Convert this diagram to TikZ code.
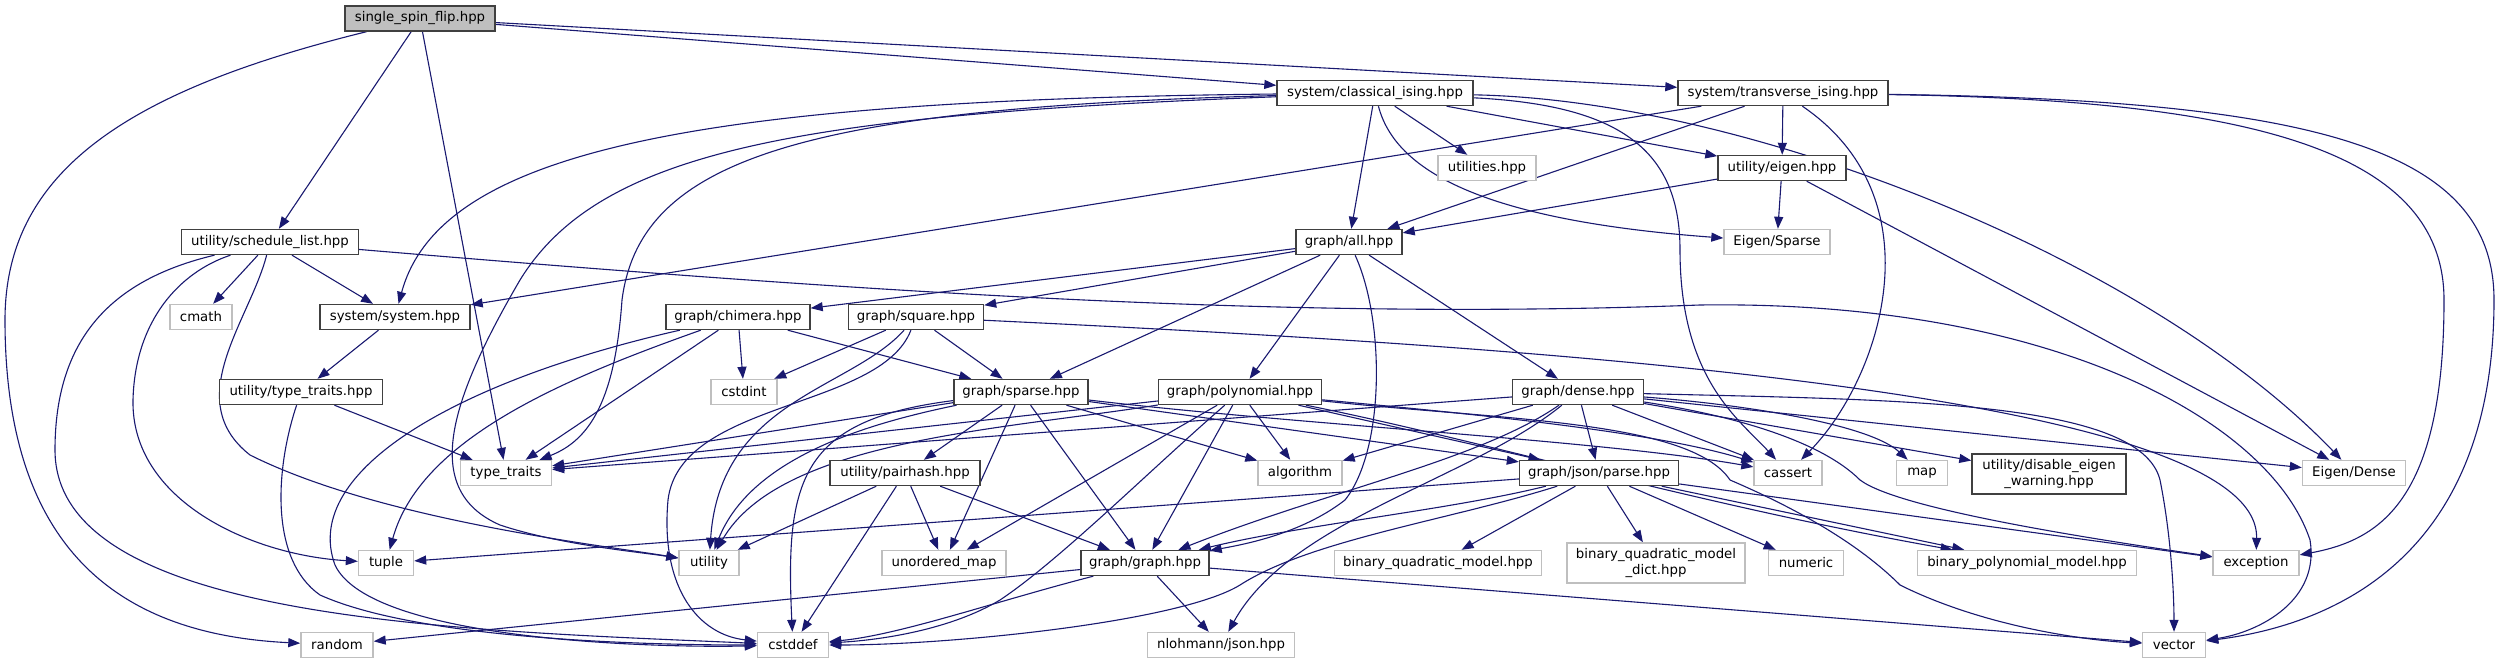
\documentclass[tikz,border=0pt]{standalone}
\usepackage{fontspec}
\setmainfont{DejaVu Sans}
\usetikzlibrary{arrows.meta}
\definecolor{edgec}{HTML}{191970}
\definecolor{docb}{HTML}{404040}
\definecolor{extb}{HTML}{BFBFBF}
\definecolor{rootf}{HTML}{BFBFBF}
\newcommand{\nodefont}{\fontsize{13.3bp}{15.5bp}\selectfont}
\begin{document}
\begin{tikzpicture}[x=1bp,y=-1bp,
  doc/.style={draw=docb, fill=white, line width=1.4bp, minimum height=25bp, inner sep=0pt, font=\nodefont, align=center},
  ext/.style={doc, draw=extb},
  rootnode/.style={doc, fill=rootf},
  e/.style={draw=edgec, line width=1.1bp, -{Triangle[length=12bp,width=9bp]}}
]
\fill[white] (0,0) rectangle (2500,664);
\useasboundingbox (0,0) rectangle (2500,664);

% ---------- nodes (placed first to get names; redrawn on top at the end) ----------
\node[rootnode, minimum width=150bp] (S) at (420,18.5) {single\_spin\_flip.hpp};
\node[doc, minimum width=196bp] (C) at (1375,93) {system/classical\_ising.hpp};
\node[doc, minimum width=210bp] (T) at (1783,93) {system/transverse\_ising.hpp};
\node[ext, minimum width=98bp] (UT) at (1487,168) {utilities.hpp};
\node[doc, minimum width=128bp] (UE) at (1782,168) {utility/eigen.hpp};
\node[doc, minimum width=177bp] (SL) at (270,242) {utility/schedule\_list.hpp};
\node[doc, minimum width=106bp] (GA) at (1349,242) {graph/all.hpp};
\node[ext, minimum width=106bp] (ES) at (1777,242) {Eigen/Sparse};
\node[ext, minimum width=62bp] (CM) at (201,317) {cmath};
\node[doc, minimum width=150bp] (SS) at (395,317) {system/system.hpp};
\node[doc, minimum width=144bp] (CH) at (738,317) {graph/chimera.hpp};
\node[doc, minimum width=135bp] (SQ) at (916,317) {graph/square.hpp};
\node[doc, minimum width=163bp] (UTT) at (301,392) {utility/type\_traits.hpp};
\node[ext, minimum width=66bp] (CI) at (744,392) {cstdint};
\node[doc, minimum width=134bp] (SP) at (1021,392) {graph/sparse.hpp};
\node[doc, minimum width=163bp] (PO) at (1240,392) {graph/polynomial.hpp};
\node[doc, minimum width=131bp] (DE) at (1578,392) {graph/dense.hpp};
\node[ext, minimum width=91bp] (TT) at (506,473) {type\_traits};
\node[doc, minimum width=150bp] (PH) at (905,473) {utility/pairhash.hpp};
\node[ext, minimum width=84bp] (AL) at (1300,473) {algorithm};
\node[doc, minimum width=159bp] (PA) at (1599,473) {graph/json/parse.hpp};
\node[ext, minimum width=68bp] (CA) at (1788,473) {cassert};
\node[ext, minimum width=51bp] (MA) at (1922,473) {map};
\node[doc, minimum width=154bp, minimum height=40bp] (DW) at (2049,474) {utility/disable\_eigen\\\_warning.hpp};
\node[ext, minimum width=103bp] (ED) at (2354,473) {Eigen/Dense};
\node[ext, minimum width=55bp] (TU) at (386,563) {tuple};
\node[ext, minimum width=60bp] (UY) at (709,563) {utility};
\node[ext, minimum width=124bp] (UM) at (944,563) {unordered\_map};
\node[doc, minimum width=128bp] (GG) at (1145,563) {graph/graph.hpp};
\node[ext, minimum width=207bp] (BQ) at (1438,563) {binary\_quadratic\_model.hpp};
\node[ext, minimum width=178bp, minimum height=40bp] (BD) at (1656,563) {binary\_quadratic\_model\\\_dict.hpp};
\node[ext, minimum width=75bp] (NU) at (1806,563) {numeric};
\node[ext, minimum width=219bp] (BP) at (2027,563) {binary\_polynomial\_model.hpp};
\node[ext, minimum width=86bp] (EX) at (2256,563) {exception};
\node[ext, minimum width=72bp] (RA) at (337,645) {random};
\node[ext, minimum width=71bp] (CD) at (793,645) {cstddef};
\node[ext, minimum width=147bp] (NJ) at (1221,645) {nlohmann/json.hpp};
\node[ext, minimum width=63bp] (VE) at (2174,645) {vector};

% ---------- edges ----------
% single_spin_flip
\draw[e] (S) .. controls (130,90) and (5,170) .. (5,320) .. controls (5,560) and (130,635) .. (RA);
\draw[e] (S) -- (SL);
\draw[e] (S) -- (TT);
\draw[e] (S) -- (C);
\draw[e] (S) -- (T);
% classical_ising
\draw[e] (C) .. controls (700,100) and (440,150) .. (SS);
\draw[e] (C) .. controls (800,108) and (640,160) .. (622,300) .. controls (615,400) and (590,440) .. (TT);
\draw[e] (C) .. controls (800,115) and (600,150) .. (520,280) .. controls (450,400) and (420,490) .. (500,525) .. controls (560,545) and (640,552) .. (UY);
\draw[e] (C) -- (UT);
\draw[e] (C) -- (GA);
\draw[e] (C) -- (UE);
\draw[e] (C) .. controls (1395,170) and (1480,220) .. (ES);
\draw[e] (C) .. controls (1620,105) and (1680,150) .. (1680,250) .. controls (1680,380) and (1740,420) .. (CA);
\draw[e] (C) .. controls (1750,100) and (2150,260) .. (ED);
% transverse_ising
\draw[e] (T) -- (SS);
\draw[e] (T) -- (GA);
\draw[e] (T) -- (UE);
\draw[e] (T) .. controls (1940,200) and (1880,380) .. (CA);
\draw[e] (T) .. controls (2250,100) and (2444,150) .. (2444,300) .. controls (2444,500) and (2380,540) .. (EX);
\draw[e] (T) .. controls (2320,100) and (2494,150) .. (2494,300) .. controls (2494,560) and (2330,625) .. (VE);
% utility/eigen
\draw[e] (UE) -- (GA);
\draw[e] (UE) -- (ES);
\draw[e] (UE) -- (ED);
% schedule_list
\draw[e] (SL) -- (CM);
\draw[e] (SL) -- (SS);
\draw[e] (SL) .. controls (180,272) and (135,320) .. (133,400) .. controls (131,500) and (250,555) .. (TU);
\draw[e] (SL) .. controls (250,320) and (180,400) .. (250,455) .. controls (380,520) and (600,545) .. (UY);
\draw[e] (SL) .. controls (110,280) and (55,340) .. (55,450) .. controls (55,620) and (450,630) .. (CD);
\draw[e] (SL) .. controls (900,295) and (1300,320) .. (1700,305) .. controls (2050,300) and (2270,420) .. (2310,540) .. controls (2320,600) and (2260,632) .. (VE);
% system/system
\draw[e] (SS) -- (UTT);
% utility/type_traits
\draw[e] (UTT) -- (TT);
\draw[e] (UTT) .. controls (275,470) and (270,560) .. (320,595) .. controls (420,640) and (650,645) .. (CD);
% graph/all
\draw[e] (GA) -- (CH);
\draw[e] (GA) -- (SQ);
\draw[e] (GA) -- (SP);
\draw[e] (GA) -- (PO);
\draw[e] (GA) -- (DE);
\draw[e] (GA) .. controls (1385,320) and (1385,450) .. (1345,500) .. controls (1300,535) and (1240,545) .. (GG);
% chimera
\draw[e] (CH) -- (CI);
\draw[e] (CH) -- (SP);
\draw[e] (CH) -- (TT);
\draw[e] (CH) .. controls (560,380) and (420,440) .. (TU);
\draw[e] (CH) .. controls (460,380) and (300,470) .. (335,565) .. controls (370,640) and (650,648) .. (CD);
% square
\draw[e] (SQ) -- (CI);
\draw[e] (SQ) -- (SP);
\draw[e] (SQ) .. controls (850,390) and (720,400) .. (UY);
\draw[e] (SQ) .. controls (880,410) and (680,400) .. (668,500) .. controls (660,590) and (700,635) .. (CD);
\draw[e] (SQ) .. controls (1500,345) and (2260,390) .. (EX);
% sparse
\draw[e] (SP) -- (PH);
\draw[e] (SP) -- (UM);
\draw[e] (SP) -- (GG);
\draw[e] (SP) -- (AL);
\draw[e] (SP) -- (PA);
\draw[e] (SP) -- (TT);
\draw[e] (SP) .. controls (860,425) and (750,460) .. (UY);
\draw[e] (SP) .. controls (800,420) and (785,480) .. (CD);
\draw[e] (SP) .. controls (1300,425) and (1600,440) .. (CA);
% polynomial
\draw[e] (PO) -- (TT);
\draw[e] (PO) .. controls (1000,430) and (780,440) .. (UY);
\draw[e] (PO) -- (UM);
\draw[e] (PO) .. controls (1150,470) and (1060,560) .. (1000,600) .. controls (950,630) and (880,640) .. (CD);
\draw[e] (PO) -- (GG);
\draw[e] (PO) -- (AL);
\draw[e] (PO) -- (PA);
\draw[e] (PO) .. controls (1450,412) and (1650,430) .. (CA);
\draw[e] (PO) .. controls (1480,440) and (1700,505) .. (BP);
\draw[e] (PO) .. controls (1500,420) and (1690,420) .. (1730,480) .. controls (1800,510) and (1860,545) .. (1900,585) .. controls (1980,625) and (2080,640) .. (VE);
% dense
\draw[e] (DE) -- (TT);
\draw[e] (DE) -- (AL);
\draw[e] (DE) -- (PA);
\draw[e] (DE) .. controls (1480,460) and (1330,490) .. (GG);
\draw[e] (DE) .. controls (1470,480) and (1290,520) .. (NJ);
\draw[e] (DE) -- (CA);
\draw[e] (DE) .. controls (1750,405) and (1870,425) .. (MA);
\draw[e] (DE) -- (DW);
\draw[e] (DE) -- (ED);
\draw[e] (DE) .. controls (1900,400) and (2140,400) .. (2160,480) .. controls (2172,540) and (2174,600) .. (VE);
\draw[e] (DE) .. controls (1730,415) and (1820,440) .. (1860,480) .. controls (1900,510) and (2100,540) .. (EX);
% pairhash
\draw[e] (PH) -- (UY);
\draw[e] (PH) -- (UM);
\draw[e] (PH) -- (GG);
\draw[e] (PH) -- (CD);
% parse
\draw[e] (PA) -- (TU);
\draw[e] (PA) .. controls (1450,510) and (1300,525) .. (GG);
\draw[e] (PA) .. controls (1450,520) and (1310,540) .. (1240,585) .. controls (1180,622) and (950,645) .. (CD);
\draw[e] (PA) -- (BQ);
\draw[e] (PA) -- (BD);
\draw[e] (PA) -- (NU);
\draw[e] (PA) -- (BP);
\draw[e] (PA) -- (EX);
% graph/graph
\draw[e] (GG) -- (RA);
\draw[e] (GG) .. controls (1000,600) and (900,635) .. (CD);
\draw[e] (GG) -- (NJ);
\draw[e] (GG) -- (VE);

% ---------- redraw nodes on top of the connectors ----------
\node[rootnode, minimum width=150bp] at (S) {single\_spin\_flip.hpp};
\node[doc, minimum width=196bp] at (C) {system/classical\_ising.hpp};
\node[doc, minimum width=210bp] at (T) {system/transverse\_ising.hpp};
\node[ext, minimum width=98bp] at (UT) {utilities.hpp};
\node[doc, minimum width=128bp] at (UE) {utility/eigen.hpp};
\node[doc, minimum width=177bp] at (SL) {utility/schedule\_list.hpp};
\node[doc, minimum width=106bp] at (GA) {graph/all.hpp};
\node[ext, minimum width=106bp] at (ES) {Eigen/Sparse};
\node[ext, minimum width=62bp] at (CM) {cmath};
\node[doc, minimum width=150bp] at (SS) {system/system.hpp};
\node[doc, minimum width=144bp] at (CH) {graph/chimera.hpp};
\node[doc, minimum width=135bp] at (SQ) {graph/square.hpp};
\node[doc, minimum width=163bp] at (UTT) {utility/type\_traits.hpp};
\node[ext, minimum width=66bp] at (CI) {cstdint};
\node[doc, minimum width=134bp] at (SP) {graph/sparse.hpp};
\node[doc, minimum width=163bp] at (PO) {graph/polynomial.hpp};
\node[doc, minimum width=131bp] at (DE) {graph/dense.hpp};
\node[ext, minimum width=91bp] at (TT) {type\_traits};
\node[doc, minimum width=150bp] at (PH) {utility/pairhash.hpp};
\node[ext, minimum width=84bp] at (AL) {algorithm};
\node[doc, minimum width=159bp] at (PA) {graph/json/parse.hpp};
\node[ext, minimum width=68bp] at (CA) {cassert};
\node[ext, minimum width=51bp] at (MA) {map};
\node[doc, minimum width=154bp, minimum height=40bp] at (DW) {utility/disable\_eigen\\\_warning.hpp};
\node[ext, minimum width=103bp] at (ED) {Eigen/Dense};
\node[ext, minimum width=55bp] at (TU) {tuple};
\node[ext, minimum width=60bp] at (UY) {utility};
\node[ext, minimum width=124bp] at (UM) {unordered\_map};
\node[doc, minimum width=128bp] at (GG) {graph/graph.hpp};
\node[ext, minimum width=207bp] at (BQ) {binary\_quadratic\_model.hpp};
\node[ext, minimum width=178bp, minimum height=40bp] at (BD) {binary\_quadratic\_model\\\_dict.hpp};
\node[ext, minimum width=75bp] at (NU) {numeric};
\node[ext, minimum width=219bp] at (BP) {binary\_polynomial\_model.hpp};
\node[ext, minimum width=86bp] at (EX) {exception};
\node[ext, minimum width=72bp] at (RA) {random};
\node[ext, minimum width=71bp] at (CD) {cstddef};
\node[ext, minimum width=147bp] at (NJ) {nlohmann/json.hpp};
\node[ext, minimum width=63bp] at (VE) {vector};
\end{tikzpicture}
\end{document}
